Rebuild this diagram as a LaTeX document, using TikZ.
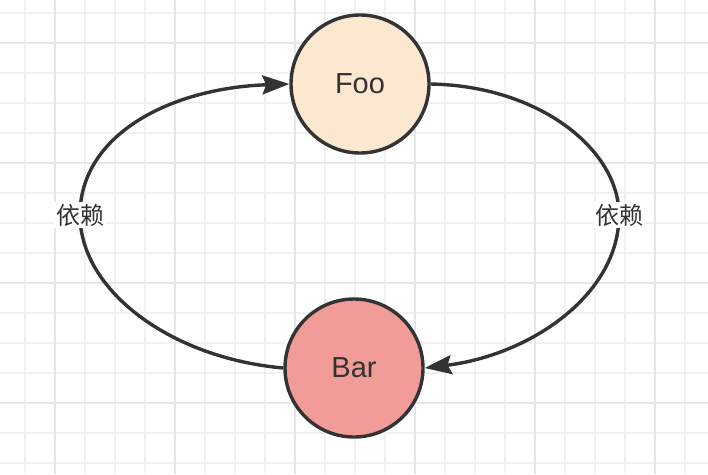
\documentclass[tikz,border=0pt]{standalone}
\usepackage{fontspec}
\setmainfont{Liberation Sans}
\newfontfamily\cjk{Noto Sans CJK SC}
\usetikzlibrary{arrows.meta}
\definecolor{gridminor}{HTML}{F1F1F1}
\definecolor{gridmajor}{HTML}{E6E6E6}
\definecolor{ink}{HTML}{333333}
\definecolor{foofill}{HTML}{FCE7D0}
\definecolor{barfill}{HTML}{F19C99}
\tikzset{
  x=1pt, y=-1pt,
  ball/.style={circle, draw=ink, line width=3.4pt, minimum size=138pt, inner sep=0pt,
    text=ink, font=\fontsize{29}{32}\selectfont},
  edge/.style={draw=ink, line width=3.4pt, -{Stealth[length=27pt,width=19pt,inset=4pt]}},
  lbl/.style={fill=white, text=ink, inner sep=2pt, font=\cjk\fontsize{24}{27}\selectfont}
}
\begin{document}
\begin{tikzpicture}
\useasboundingbox (0,0) rectangle (708,474);
\fill[white] (0,0) rectangle (708,474);
\foreach \x in {25,55,...,705} \draw[gridminor, line width=1.2pt] (\x,0) -- (\x,474);
\foreach \y in {13,43,...,473} \draw[gridminor, line width=1.2pt] (0,\y) -- (708,\y);
\foreach \x in {55,175,...,655} \draw[gridmajor, line width=1.5pt] (\x,0) -- (\x,474);
\foreach \y in {43,163,...,403} \draw[gridmajor, line width=1.5pt] (0,\y) -- (708,\y);

\node[ball, fill=foofill] (foo) at (360,84) {Foo};
\node[ball, fill=barfill] (bar) at (354,368) {Bar};

\coordinate (r) at (619,215);
\coordinate (l) at (80,215);

\draw[edge] (foo.east) .. controls (540,86) and (619,150) .. (r)
  .. controls (619,295) and (530,355) .. (bar.east);
\draw[edge] (bar.west) .. controls (170,358) and (80,290) .. (l)
  .. controls (80,135) and (170,88) .. (foo.west);

\node[lbl] (lr) at (r) {依赖};
\node[lbl] (ll) at (l) {依赖};
\end{tikzpicture}
\end{document}
